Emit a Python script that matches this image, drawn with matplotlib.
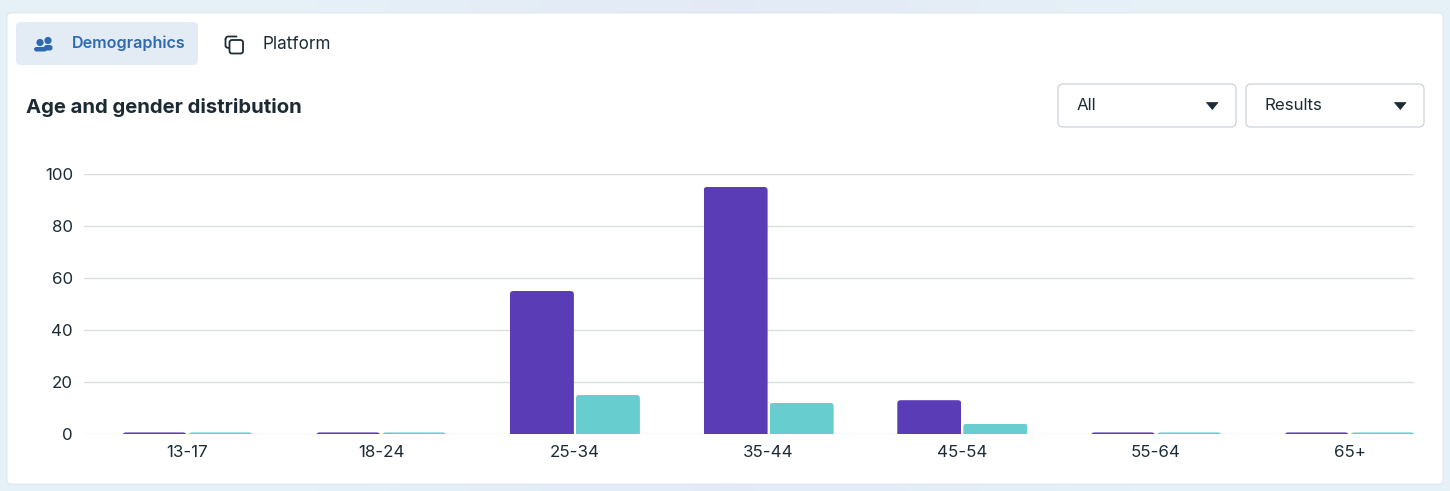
import matplotlib
matplotlib.use("Agg")
import matplotlib.pyplot as plt
from matplotlib.patches import FancyBboxPatch, Rectangle, Circle, Ellipse, Polygon, Wedge
import numpy as np

plt.rcParams['font.family'] = ['Inter', 'DejaVu Sans']

categories = ['13-17', '18-24', '25-34', '35-44', '45-54', '55-64', '65+']
men = [0.6, 0.6, 55, 95, 13, 0.6, 0.6]
women = [0.6, 0.6, 15, 12, 4, 0.6, 0.6]
y_ticks = [0, 20, 40, 60, 80, 100]
title = 'Age and gender distribution'
tabs = ['Demographics', 'Platform']
dropdowns = ['All', 'Results']

PURPLE = '#5a3cb6'
TEAL = '#68cdcf'
DARK = '#1c2b33'
W, H = 1450, 491

fig = plt.figure(figsize=(W / 100, H / 100), dpi=100)

# page chrome, pixel coordinates
bg = fig.add_axes([0, 0, 1, 1], zorder=0)
bg.set_xlim(0, W); bg.set_ylim(H, 0); bg.axis('off')
grad = np.array([[0.90, 0.945, 0.97], [0.89, 0.92, 0.965], [0.90, 0.945, 0.97]])[None, :, :]
bg.imshow(grad, extent=(0, W, H, 0), aspect='auto', interpolation='bilinear', zorder=0)
bg.set_xlim(0, W); bg.set_ylim(H, 0)


def rbox(x0, y0, x1, y1, r, **kw):
    bg.add_patch(FancyBboxPatch((x0 + r, y0 + r), x1 - x0 - 2 * r, y1 - y0 - 2 * r,
                                boxstyle=f'round,pad={r},rounding_size={r}', **kw))


rbox(7, 13, 1443, 484, 4, fc='white', ec='#dde3e8', lw=0.6, zorder=1)
rbox(16, 22, 198, 65, 5, fc='#e3ecf5', ec='none', zorder=2)

# people icon
BLUE = '#2f69b0'
bg.add_patch(Circle((48, 40.5), 3.6, fc=BLUE, ec='none', zorder=3))
bg.add_patch(Circle((40, 42.5), 3.6, fc=BLUE, ec='none', zorder=3))
bg.add_patch(FancyBboxPatch((35.5, 48.5), 10, 1.5, boxstyle='round,pad=1.5,rounding_size=2.5', fc=BLUE, ec='none', zorder=3))
bg.add_patch(FancyBboxPatch((45.5, 46.5), 5.5, 2.5, boxstyle='round,pad=1.5,rounding_size=2.5', fc=BLUE, ec='none', zorder=3))

# copy icon
rbox(229.5, 40, 243, 53.5, 2.5, fc='white', ec=DARK, lw=1.3, zorder=4)
bg.plot([229, 226.5, 225.5, 225.5], [48, 47.5, 46, 39], color=DARK, lw=1.3, zorder=3, solid_capstyle='round')
bg.plot([225.5, 226.5, 228, 236.5], [39, 37, 36.5, 36.5], color=DARK, lw=1.3, zorder=3, solid_capstyle='round')

bg.text(71.5, 43.5, tabs[0], color=BLUE, fontsize=11.6, fontweight='semibold', va='center', ha='left', zorder=5)
bg.text(263, 44, tabs[1], color=DARK, fontsize=12.3, va='center', ha='left', zorder=5)
bg.text(26, 107, title, color=DARK, fontsize=14.6, fontweight='bold', va='center', ha='left', zorder=5)

# dropdowns
for (x0, x1), label, tx in zip([(1058, 1236), (1246, 1424)], dropdowns, [1077, 1265]):
    rbox(x0, 84, x1, 127, 5, fc='white', ec='#c9ced2', lw=0.8, zorder=2)
    bg.text(tx, 105.5, label, color=DARK, fontsize=12.2, va='center', ha='left', zorder=5)
    bg.add_patch(Polygon([(x1 - 29.5, 102.5), (x1 - 18, 102.5), (x1 - 23.7, 109.5)], closed=True,
                         fc=DARK, ec=DARK, lw=0.5, joinstyle='round', zorder=5))

# chart: 193.7 px per category, first category centre at x=187.5 px
AX_L, AX_R, AX_TOP, AX_BOT = 84, 1414, 174, 434
ax = fig.add_axes([AX_L / W, 1 - AX_BOT / H, (AX_R - AX_L) / W, (AX_BOT - AX_TOP) / H], zorder=2)
ax.patch.set_alpha(0)
PX = 193.7
ax.set_xlim((AX_L - 187.5) / PX, (AX_R - 187.5) / PX)
ax.set_ylim(0, 100)
x = np.arange(len(categories))
bw = 64 / PX
off = 33 / PX
bars1 = ax.bar(x - off, men, width=bw, color=PURPLE, zorder=3)
bars2 = ax.bar(x + off, women, width=bw, color=TEAL, zorder=3)

# rounded top corners, 3.5 px radius
pyu = 2.6
r = 3.5 / PX
asp = PX / pyu
for rect in list(bars1) + list(bars2):
    bx, bw_, bh = rect.get_x(), rect.get_width(), rect.get_height()
    extra = 3.0
    clip = FancyBboxPatch((bx + r, -extra), bw_ - 2 * r, bh + extra - 3.5 / pyu,
                          boxstyle=f'round,pad={r},rounding_size={r}', mutation_aspect=asp,
                          transform=ax.transData)
    rect.set_clip_path(clip)

ax.set_yticks(y_ticks)
ax.set_xticks(x, categories)
ax.set_xticklabels(categories)
ax.grid(axis='y', color='#d9dde0', lw=1.0, zorder=0)
ax.set_axisbelow(True)
for s in ax.spines.values():
    s.set_visible(False)
ax.tick_params(axis='both', length=0, labelsize=12.2, labelcolor=DARK)
ax.tick_params(axis='y', pad=8)
ax.tick_params(axis='x', pad=8)

fig.savefig('out.png', dpi=100)
